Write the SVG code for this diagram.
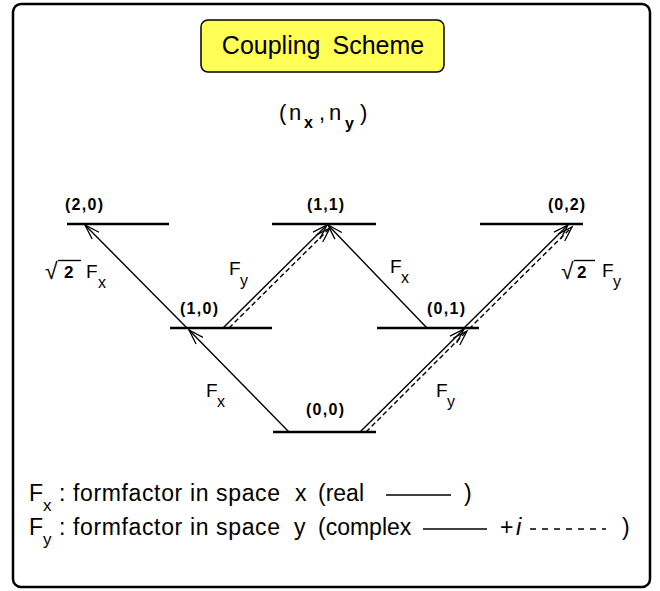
<svg xmlns="http://www.w3.org/2000/svg" width="660" height="591" viewBox="0 0 660 591">
<style>
text{font-family:"Liberation Sans",Arial,sans-serif;fill:#000}
.lvl{stroke:#000;stroke-width:2.6;fill:none}
.lab{font-weight:bold;font-size:16px}
.c{stroke:#000;stroke-width:1.4;fill:none;marker-end:url(#arr)}
.d{stroke-dasharray:5,3}
.F{font-size:19px}
.s{font-size:16px}
.leg{font-size:23px}
.ls{font-size:17px}
</style>
<defs>
<marker id="arr" markerUnits="userSpaceOnUse" markerWidth="20" markerHeight="12" refX="0" refY="0" viewBox="-16 -6 18 12" orient="auto" overflow="visible">
<path d="M-15,-4.8 L0,0 L-15,4.8" fill="none" stroke="#000" stroke-width="1.3"/>
</marker>
</defs>
<rect x="13" y="4" width="637" height="583" rx="8" fill="#fff" stroke="#000" stroke-width="2.5"/>
<g id="title">
<rect x="201" y="20" width="243" height="52" rx="7" fill="#ffff55" stroke="#000" stroke-width="1.5"/>
<text x="323" y="54" font-size="25" text-anchor="middle" word-spacing="5">Coupling Scheme</text>
</g>
<g id="axes-label">
<text font-size="22" y="120"><tspan x="279">(</tspan><tspan x="289">n</tspan><tspan x="304" y="128" font-size="16" font-weight="bold">x</tspan><tspan x="319" y="120">,</tspan><tspan x="329">n</tspan><tspan x="345" y="129" font-size="16" font-weight="bold">y</tspan><tspan x="360" y="120">)</tspan></text>
</g>
<g id="n20"><line class="lvl" x1="67" y1="224" x2="169" y2="224"/><text class="lab" x="65" y="210" textLength="38">(2,0)</text></g>
<g id="n11"><line class="lvl" x1="272" y1="224" x2="376" y2="224"/><text class="lab" x="307" y="210" textLength="37">(1,1)</text></g>
<g id="n02"><line class="lvl" x1="480" y1="224" x2="583" y2="224"/><text class="lab" x="548" y="210" textLength="37">(0,2)</text></g>
<g id="n10"><line class="lvl" x1="170" y1="328" x2="272" y2="328"/><text class="lab" x="180" y="314" textLength="38">(1,0)</text></g>
<g id="n01"><line class="lvl" x1="377" y1="328" x2="479" y2="328"/><text class="lab" x="427" y="314" textLength="38">(0,1)</text></g>
<g id="n00"><line class="lvl" x1="273" y1="432" x2="376" y2="432"/><text class="lab" x="306" y="415" textLength="38">(0,0)</text></g>
<g id="connectors">
<line class="c" x1="289" y1="432" x2="189" y2="330"/>
<line class="c" x1="187" y1="328" x2="85" y2="225"/>
<line class="c" x1="223" y1="328" x2="327" y2="225"/>
<line class="c d" x1="229" y1="328" x2="330" y2="228"/>
<line class="c" x1="427" y1="328" x2="328" y2="225"/>
<line class="c" x1="360" y1="432" x2="464" y2="329"/>
<line class="c d" x1="366" y1="432" x2="467" y2="331"/>
<line class="c" x1="464" y1="328" x2="568" y2="225"/>
<line class="c d" x1="469" y1="329" x2="572" y2="227"/>
</g>
<g id="labels">
<text x="45" y="279" font-size="23">√</text><line x1="58" y1="260.5" x2="81" y2="260.5" stroke="#000" stroke-width="1.4"/>
<text x="64" y="278" font-size="17" font-weight="bold">2</text>
<text class="F" x="86" y="278">F<tspan class="s" x="98" y="288">x</tspan></text>
<text class="F" x="229" y="275">F<tspan class="s" x="240" y="286">y</tspan></text>
<text class="F" x="390" y="273">F<tspan class="s" x="401" y="283">x</tspan></text>
<text class="F" x="206" y="397">F<tspan class="s" x="217" y="407">x</tspan></text>
<text class="F" x="436" y="397">F<tspan class="s" x="447" y="407">y</tspan></text>
<text x="561" y="279" font-size="23">√</text><line x1="574" y1="260.5" x2="595" y2="260.5" stroke="#000" stroke-width="1.4"/>
<text x="577" y="278" font-size="17" font-weight="bold">2</text>
<text class="F" x="602" y="277">F<tspan class="s" x="613" y="287">y</tspan></text>
</g>
<g id="legend">
<text class="leg" x="29" y="501">F<tspan class="ls" x="43" y="511">x</tspan></text>
<text class="leg" x="59" y="501">:</text>
<text class="leg" x="73" y="501" textLength="207">formfactor in space</text>
<text class="leg" x="295" y="501">x</text>
<text class="leg" x="318" y="501">(real</text>
<line x1="386" y1="495" x2="451" y2="495" stroke="#000" stroke-width="1.3"/>
<text class="leg" x="464" y="501">)</text>
<text class="leg" x="29" y="535">F<tspan class="ls" x="43" y="545">y</tspan></text>
<text class="leg" x="59" y="535">:</text>
<text class="leg" x="73" y="535" textLength="207">formfactor in space</text>
<text class="leg" x="294" y="535">y</text>
<text class="leg" x="318" y="535">(complex</text>
<line x1="423" y1="529" x2="487" y2="529" stroke="#000" stroke-width="1.3"/>
<text class="leg" x="500" y="535">+</text>
<text x="516" y="535" font-size="24" font-style="italic" font-family="'Liberation Serif',serif">i</text>
<line x1="530" y1="529" x2="606" y2="529" stroke="#000" stroke-width="1.3" stroke-dasharray="6,6"/>
<text class="leg" x="622" y="535">)</text>
</g>
</svg>
